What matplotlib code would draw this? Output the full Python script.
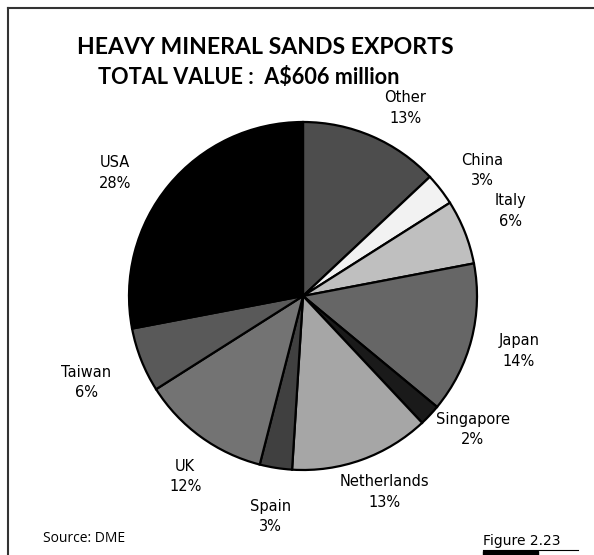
import numpy as np
import matplotlib
matplotlib.use("Agg")
import matplotlib.pyplot as plt
from matplotlib.lines import Line2D
from matplotlib.patches import Rectangle

countries = ["Other", "China", "Italy", "Japan", "Singapore", "Netherlands",
             "Spain", "UK", "Taiwan", "USA"]
shares = [13, 3, 6, 14, 2, 13, 3, 12, 6, 28]

colors = ["#4d4d4d", "#f2f2f2", "#bfbfbf", "#666666", "#1a1a1a", "#a6a6a6",
          "#404040", "#737373", "#595959", "#000000"]
# label placement: distance (in radii) and angle nudge (deg) from slice middle
label_dist = [1.23, 1.26, 1.29, 1.28, 1.24, 1.22, 1.28, 1.24, 1.34, 1.29]
label_nudge = [-5.1, -2.8, 0.7, 0.1, 5.0, 2.9, 0.5, 2.9, 0.1, 6.4]

label_font = ["Liberation Sans Narrow", "DejaVu Sans"]

fig = plt.figure(figsize=(5.94, 5.55), dpi=100)
ax = fig.add_axes([(303 - 174) / 594, 1 - (296 + 174) / 555, 348 / 594, 348 / 555])

wedges, _ = ax.pie(shares, colors=colors, startangle=90, counterclock=False,
                   radius=1, wedgeprops=dict(edgecolor="black", linewidth=1.6))
ax.set_xlim(-1, 1)
ax.set_ylim(-1, 1)
ax.set_aspect("equal")
ax.axis("off")

for w, name, pct, d, nudge in zip(wedges, countries, shares, label_dist, label_nudge):
    ang = np.deg2rad((w.theta1 + w.theta2) / 2 + nudge)
    ax.text(d * np.cos(ang), d * np.sin(ang), f"{name}\n{pct}%", ha="center", va="center",
            fontsize=10.5, family=label_font, linespacing=1.45, clip_on=False)

fig.text(265 / 594, 1 - 47 / 555, "HEAVY MINERAL SANDS EXPORTS", ha="center", va="center",
         fontsize=16.6, fontweight="bold", family=["Lato", "DejaVu Sans"])
fig.text(249 / 594, 1 - 77 / 555, "TOTAL VALUE :  A$606 million", ha="center", va="center",
         fontsize=15.6, fontweight="bold", family=["Lato", "DejaVu Sans"])

fig.text(43 / 594, 1 - 539 / 555, "Source: DME", ha="left", va="center",
         fontsize=10, family=["Open Sans", "DejaVu Sans"])
fig.text(483 / 594, 1 - 541 / 555, "Figure 2.23", ha="left", va="center",
         fontsize=10, family=["Liberation Sans Narrow", "DejaVu Sans"])

# frame (left and top only), underline and tag bar
fig.add_artist(Line2D([8 / 594, 8 / 594], [0, 1 - 8 / 555], color="#333333", lw=1.5))
fig.add_artist(Line2D([8 / 594, 1], [1 - 8 / 555, 1 - 8 / 555], color="#333333", lw=1.5))
fig.add_artist(Line2D([483 / 594, 578 / 594], [1 - 550 / 555, 1 - 550 / 555], color="black", lw=0.8))
fig.add_artist(Rectangle((483 / 594, 0), 55 / 594, 4 / 555, color="black", transform=fig.transFigure))

fig.savefig("out.png", dpi=100, facecolor="white")
